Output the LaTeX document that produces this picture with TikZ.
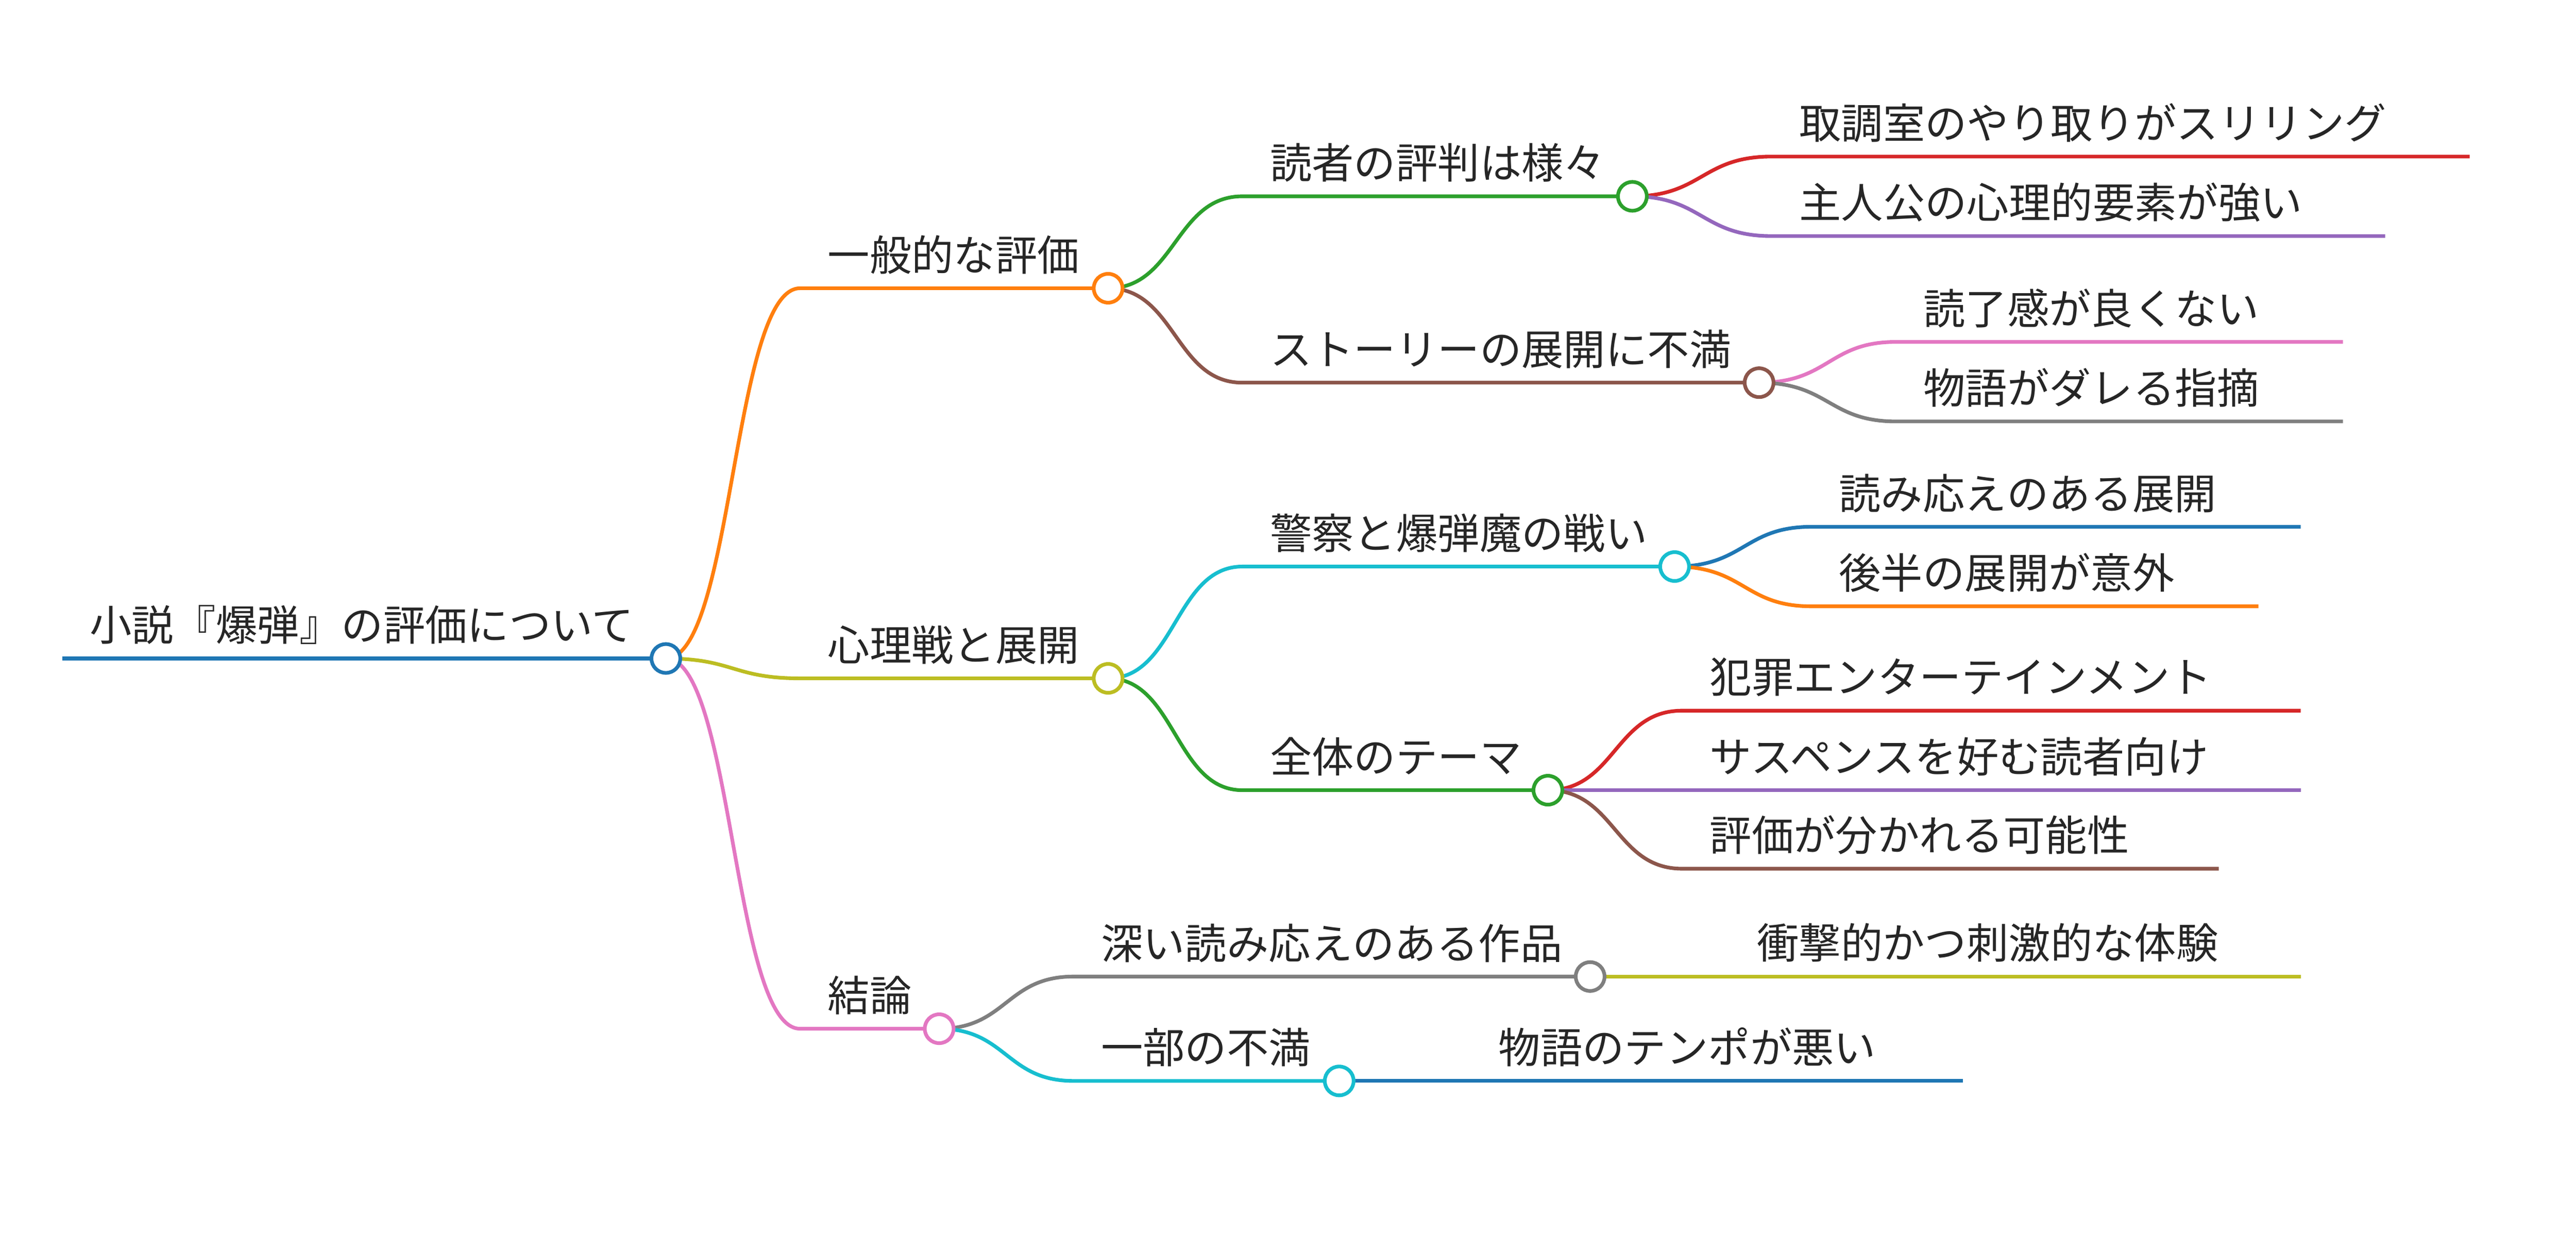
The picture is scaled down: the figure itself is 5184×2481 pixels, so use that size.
\documentclass[tikz,border=0pt]{standalone}
\usepackage{fontspec}
\usetikzlibrary{calc}
\newfontfamily\cjk{Noto Sans CJK JP}
\definecolor{cB}{HTML}{1F77B4}\definecolor{cO}{HTML}{FF7F0E}\definecolor{cG}{HTML}{2CA02C}
\definecolor{cR}{HTML}{D62728}\definecolor{cP}{HTML}{9467BD}\definecolor{cBr}{HTML}{8C564B}
\definecolor{cPk}{HTML}{E377C2}\definecolor{cGr}{HTML}{7F7F7F}\definecolor{cOl}{HTML}{BCBD22}
\definecolor{cC}{HTML}{17BECF}
\begin{document}
\begin{tikzpicture}[x=0.01cm,y=-0.01cm,
  ln/.style={line width=2.1pt},
  dot/.style={circle,draw,fill=white,line width=2.1pt,minimum size=0.58cm,inner sep=0pt},
  lbl/.style={anchor=south west,inner sep=0pt,font=\cjk\fontsize{24}{28}\selectfont,text=black!85}]
\useasboundingbox (0,0) rectangle (5184,2481);
% coordinates
\coordinate (rs) at (125,1325);  \coordinate (r) at (1340,1325);
\coordinate (a1s) at (1610,580); \coordinate (a1) at (2230,580);
\coordinate (a2s) at (1610,1365);\coordinate (a2) at (2230,1365);
\coordinate (a3s) at (1610,2070);\coordinate (a3) at (1890,2070);
\coordinate (b1s) at (2500,395); \coordinate (b1) at (3285,395);
\coordinate (b2s) at (2500,770); \coordinate (b2) at (3540,770);
\coordinate (b3s) at (2500,1140);\coordinate (b3) at (3370,1140);
\coordinate (b4s) at (2500,1590);\coordinate (b4) at (3115,1590);
\coordinate (b5s) at (2160,1965);\coordinate (b5) at (3200,1965);
\coordinate (b6s) at (2160,2175);\coordinate (b6) at (2695,2175);
\coordinate (c1s) at (3565,315); \coordinate (c1) at (4970,315);
\coordinate (c2s) at (3565,475); \coordinate (c2) at (4800,475);
\coordinate (c3s) at (3815,688); \coordinate (c3) at (4715,688);
\coordinate (c4s) at (3815,848); \coordinate (c4) at (4715,848);
\coordinate (c5s) at (3645,1060);\coordinate (c5) at (4630,1060);
\coordinate (c6s) at (3645,1220);\coordinate (c6) at (4545,1220);
\coordinate (c7s) at (3385,1430);\coordinate (c7) at (4630,1430);
\coordinate (c8s) at (3385,1590);\coordinate (c8) at (4630,1590);
\coordinate (c9s) at (3385,1748);\coordinate (c9) at (4465,1748);
\coordinate (c10s) at (3480,1965);\coordinate (c10) at (4630,1965);
\coordinate (c11s) at (2960,2175);\coordinate (c11) at (3950,2175);
% edges
\draw[ln,cB] (rs) -- (r);
\draw[ln,cO] (r) .. controls (1475,1325) and (1475,580) .. (a1s) -- (a1);
\draw[ln,cOl] (r) .. controls (1475,1325) and (1475,1365) .. (a2s) -- (a2);
\draw[ln,cPk] (r) .. controls (1475,1325) and (1475,2070) .. (a3s) -- (a3);
\draw[ln,cG] (a1) .. controls (2365,580) and (2365,395) .. (b1s) -- (b1);
\draw[ln,cBr] (a1) .. controls (2365,580) and (2365,770) .. (b2s) -- (b2);
\draw[ln,cC] (a2) .. controls (2365,1365) and (2365,1140) .. (b3s) -- (b3);
\draw[ln,cG] (a2) .. controls (2365,1365) and (2365,1590) .. (b4s) -- (b4);
\draw[ln,cGr] (a3) .. controls (2025,2070) and (2025,1965) .. (b5s) -- (b5);
\draw[ln,cC] (a3) .. controls (2025,2070) and (2025,2175) .. (b6s) -- (b6);
\draw[ln,cR] (b1) .. controls (3425,395) and (3425,315) .. (c1s) -- (c1);
\draw[ln,cP] (b1) .. controls (3425,395) and (3425,475) .. (c2s) -- (c2);
\draw[ln,cPk] (b2) .. controls (3680,770) and (3680,688) .. (c3s) -- (c3);
\draw[ln,cGr] (b2) .. controls (3680,770) and (3680,848) .. (c4s) -- (c4);
\draw[ln,cB] (b3) .. controls (3510,1140) and (3510,1060) .. (c5s) -- (c5);
\draw[ln,cO] (b3) .. controls (3510,1140) and (3510,1220) .. (c6s) -- (c6);
\draw[ln,cR] (b4) .. controls (3250,1590) and (3250,1430) .. (c7s) -- (c7);
\draw[ln,cP] (b4) -- (c8s) -- (c8);
\draw[ln,cBr] (b4) .. controls (3250,1590) and (3250,1748) .. (c9s) -- (c9);
\draw[ln,cOl] (b5) -- (c10s) -- (c10);
\draw[ln,cB] (b6) -- (c11s) -- (c11);
% circles
\foreach \n/\c in {r/cB,a1/cO,a2/cOl,a3/cPk,b1/cG,b2/cBr,b3/cC,b4/cG,b5/cGr,b6/cC}
  \node[dot,draw=\c] (\n d) at (\n) {};
% labels
\foreach \n/\t in {r/小説『爆弾』の評価について,a1/一般的な評価,a2/心理戦と展開,a3/結論,
  b1/読者の評判は様々,b2/ストーリーの展開に不満,b3/警察と爆弾魔の戦い,b4/全体のテーマ,
  b5/深い読み応えのある作品,b6/一部の不満,c1/取調室のやり取りがスリリング,
  c2/主人公の心理的要素が強い,c3/読了感が良くない,c4/物語がダレる指摘,
  c5/読み応えのある展開,c6/後半の展開が意外,c7/犯罪エンターテインメント,
  c8/サスペンスを好む読者向け,c9/評価が分かれる可能性,c10/衝撃的かつ刺激的な体験,
  c11/物語のテンポが悪い}
  \node[lbl] (\n t) at ($(\n s)+(55,-28)$) {\t};
\end{tikzpicture}
\end{document}
